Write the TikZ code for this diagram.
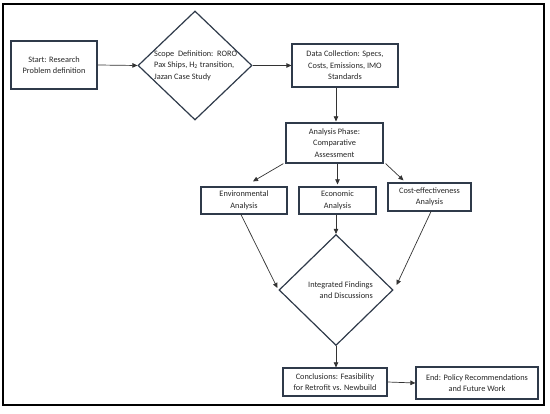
\documentclass[tikz,border=0pt]{standalone}
\usepackage{fontspec}
\setmainfont{Carlito}
\usetikzlibrary{shapes.geometric,arrows.meta,calc}
\definecolor{boxc}{HTML}{2F3A4A}
\definecolor{arrc}{HTML}{333333}
\definecolor{txtc}{HTML}{262626}
\newcommand\figfont{\fontsize{8.3}{11.6}\selectfont}
\begin{document}
\begin{tikzpicture}[x=1pt,y=-1pt,
  box/.style={draw=boxc,line width=1.2pt,rectangle,inner sep=0pt,align=center,font=\figfont,text=txtc},
  dia/.style={draw=boxc,line width=1.2pt,diamond,inner sep=0pt,aspect=1},
  txt/.style={font=\figfont,text=txtc,inner sep=0pt},
  arr/.style={draw=arrc,line width=0.7pt,-{Triangle[length=5pt,width=4.5pt]}}]
\useasboundingbox (0,0) rectangle (550,414);
\node[draw=black,line width=2pt,minimum width=541pt,minimum height=401pt,inner sep=0pt] (frame) at (273.5,204.5) {};
% nodes
\node[box,minimum width=86pt,minimum height=48pt] (start) at (54,65) {Start: Research\\Problem definition};
\node[dia,minimum width=114pt,minimum height=109pt] (d1) at (195,65.5) {};
\node[txt,align=left,anchor=west] (d1t) at ([xshift=-41pt]d1.center) {Scope\ \ Definition:\ \ RORO\\Pax Ships, H\textsubscript{2} transition,\\Jazan Case Study};
\node[box,minimum width=106pt,minimum height=43pt] (data) at (345,65.5) {Data Collection: Specs,\\Costs, Emissions, IMO\\Standards};
\node[box,minimum width=97pt,minimum height=40pt] (an) at (334.5,143) {Analysis Phase:\\Comparative\\Assessment};
\node[box,minimum width=86pt,minimum height=27pt] (env) at (244,200.5) {Environmental\\Analysis};
\node[box,minimum width=77pt,minimum height=27pt] (eco) at (337.5,200.5) {Economic\\Analysis};
\node[box,minimum width=83pt,minimum height=28pt] (cost) at (429.5,197) {Cost-effectiveness\\Analysis};
\node[dia,minimum width=114pt,minimum height=111pt] (d2) at (336,290) {};
\node[txt,align=right,anchor=east] (d2t) at ([xshift=37pt]d2.center) {Integrated Findings\\and Discussions};
\node[box,minimum width=104pt,minimum height=28pt] (con) at (335,382) {Conclusions: Feasibility\\for Retrofit vs. Newbuild};
\node[box,minimum width=122pt,minimum height=32pt] (fin) at (477,383) {End: Policy Recommendations\\and Future Work};
% connectors
\draw[arr] (start.east) -- (d1.west);
\draw[arr] (d1.east) -- (data.west);
\draw[arr] ([xshift=-9pt]data.south) -- ([xshift=1.5pt,yshift=1pt]an.north);
\draw[arr] ([xshift=-2pt]an.south west) -- ([xshift=9pt,yshift=5pt]env.north);
\draw[arr] (an.south -| eco.north) -- ([yshift=2pt]eco.north);
\draw[arr] ([xshift=2pt]an.south east) -- ([xshift=-26pt,yshift=2pt]cost.north);
\draw[arr] ([xshift=-3pt]env.south) -- ([xshift=-1pt,yshift=2pt]d2.west);
\draw[arr] (eco.south -| d2.north) -- (d2.north);
\draw[arr] ([xshift=1.5pt]cost.south) -- ([xshift=3pt,yshift=5pt]d2.east);
\draw[arr] (d2.south) -- (con.north -| d2.south);
\draw[arr] (con.east) -- (fin.west);
\end{tikzpicture}
\end{document}
